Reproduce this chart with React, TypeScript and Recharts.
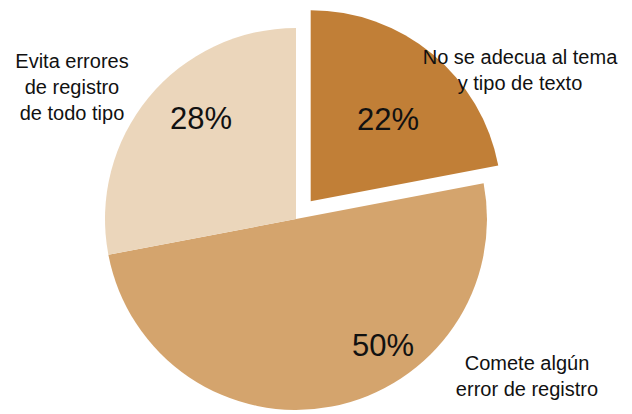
import React from 'react';
import { PieChart, Pie, Cell } from 'recharts';

const categories = [
  'No se adecua al tema\ny tipo de texto',
  'Comete algún\nerror de registro',
  'Evita errores\nde registro\nde todo tipo',
];
const values = [22, 50, 28];
const percentLabels = ['22%', '50%', '28%'];
const colors = ['#c17f37', '#d4a46d', '#ebd6bb'];

const data = categories.map((name, i) => ({ name, value: values[i], pct: percentLabels[i] }));

const CX = 296;
const CY = 219;
const R = 191;
const EXPLODE = 23;
const FONT = '"Liberation Sans", Arial, Helvetica, sans-serif';

const total = values.reduce((a, b) => a + b, 0);
const midAngle0 = 90 - ((values[0] / total) * 360) / 2;
const EX = EXPLODE * Math.cos((midAngle0 * Math.PI) / 180);
const EY = -EXPLODE * Math.sin((midAngle0 * Math.PI) / 180);

// label placement (offsets from pie centre)
const pctPos = [
  [92, -89],
  [87, 137],
  [-95, -90],
];
const namePos = [
  [224, -155],
  [231, 151],
  [-224, -151],
];

const renderLabel = (props: any) => {
  const i = props.index;
  const lines = String(categories[i]).split('\n');
  const [px, py] = pctPos[i];
  const [nx, ny] = namePos[i];
  return (
    <g key={`lbl-${i}`}>
      <text x={CX + px} y={CY + py} textAnchor="middle" fontSize={31} fill="#111" fontFamily={FONT}>
        {percentLabels[i]}
      </text>
      <text x={CX + nx} y={CY + ny} textAnchor="middle" fontSize={20} fill="#111" fontFamily={FONT}>
        {lines.map((l, k) => (
          <tspan key={k} x={CX + nx} dy={k === 0 ? 0 : 26}>
            {l}
          </tspan>
        ))}
      </text>
    </g>
  );
};

export default function App() {
  return (
    <div style={{ position: 'absolute', left: 0, top: 0, width: 632, height: 414, background: '#fff' }}>
      <PieChart width={632} height={414} margin={{ top: 0, right: 0, bottom: 0, left: 0 }}>
        <Pie
          data={data}
          dataKey="value"
          nameKey="name"
          cx={CX}
          cy={CY}
          outerRadius={R}
          startAngle={90}
          endAngle={-270}
          stroke="none"
          isAnimationActive={false}
          labelLine={false}
          label={renderLabel}
        >
          {data.map((d, i) => (
            <Cell key={i} fill={i === 0 ? 'none' : colors[i]} stroke="none" />
          ))}
        </Pie>
        <Pie
          data={data}
          dataKey="value"
          nameKey="name"
          cx={CX + EX}
          cy={CY + EY}
          outerRadius={R}
          startAngle={90}
          endAngle={-270}
          stroke="none"
          isAnimationActive={false}
          labelLine={false}
          label={false}
        >
          {data.map((d, i) => (
            <Cell key={i} fill={i === 0 ? colors[0] : 'none'} stroke="none" />
          ))}
        </Pie>
      </PieChart>
    </div>
  );
}
